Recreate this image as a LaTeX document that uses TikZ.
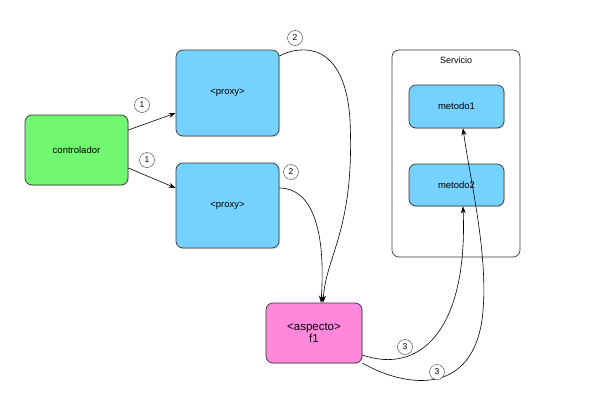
\documentclass[tikz,border=0pt]{standalone}
\usepackage{fontspec}
\setmainfont{Liberation Sans}
\usetikzlibrary{arrows.meta,shadows}

\definecolor{ctrlgreen}{RGB}{114,247,114}
\definecolor{proxyblue}{RGB}{117,210,255}
\definecolor{aspectpink}{RGB}{255,136,220}
\definecolor{edgegray}{RGB}{55,55,55}

\begin{document}
\begin{tikzpicture}[
			x=1pt, y=-1pt
			,box/.style={draw=edgegray, rounded corners=7pt, line width=0.7pt, font=\fontsize{9.5}{11}\selectfont,
				drop shadow={opacity=0.25, shadow xshift=1pt, shadow yshift=-1.2pt}}
			,g/.style={box, fill=ctrlgreen}
			,bl/.style={box, fill=proxyblue}
			,pk/.style={box, fill=aspectpink, font=\fontsize{11.5}{12.5}\selectfont, align=center}
			,num/.style={circle, draw=edgegray, fill=white, inner sep=0pt, minimum size=15pt, font=\fontsize{8.5}{9}\selectfont}
			,arr/.style={-{Stealth[length=7pt, width=5pt]}, line width=0.6pt}
		]
			\useasboundingbox (0,0) rectangle (599,407);

			% servicio container
			\node [draw=edgegray, rounded corners=7pt, line width=0.7pt, minimum width=128pt, minimum height=207pt] (S) at (456,153.5) {};
			\node [font=\fontsize{9}{10}\selectfont] (SL) at (456,60) {Servicio};

			\node [g, minimum width=103pt, minimum height=70pt] (C) at (76.5,150) {controlador};
			\node [bl, minimum width=103pt, minimum height=86pt] (P1) at (227.5,93) {<proxy>};
			\node [bl, minimum width=103pt, minimum height=85pt] (P2) at (227.5,205.5) {<proxy>};
			\node [bl, minimum width=95pt, minimum height=43pt] (M1) at (456.5,106.5) {metodo1};
			\node [bl, minimum width=95pt, minimum height=42pt] (M2) at (456.5,185) {metodo2};
			\node [pk, minimum width=96pt, minimum height=60pt] (A) at (314,333) {<aspecto>\\f1};

			% calls
			\draw [arr] ([yshift=20pt]C.east) -- ([yshift=-20pt]P1.west);
			\draw [arr] ([yshift=-18pt]C.east) -- ([yshift=17.5pt]P2.west);
			\draw [arr] ([yshift=37pt]P1.east) .. controls (300,45) and (345,40) .. (350,120)
				.. controls (355,230) and (326,255) .. ([xshift=9pt]A.north);
			\draw [arr] ([yshift=17.5pt]P2.east) .. controls (312,188) and (326,230) .. ([xshift=7pt]A.north);
			\draw [arr] ([yshift=-22pt]A.east) .. controls (420,375) and (468,330) .. ([xshift=6.5pt]M2.south);
			\draw [arr] ([yshift=-30pt]A.east) .. controls (400,385) and (470,400) .. (482,320)
				.. controls (490,260) and (470,180) .. ([xshift=6.5pt]M1.south);

			% step numbers
			\node [num] (N1a) at (142,105) {1};
			\node [num] (N1b) at (147,160) {1};
			\node [num] (N2a) at (295,38) {2};
			\node [num] (N2b) at (291,172) {2};
			\node [num] (N3a) at (405,347) {3};
			\node [num] (N3b) at (437,372) {3};
		\end{tikzpicture}
\end{document}
